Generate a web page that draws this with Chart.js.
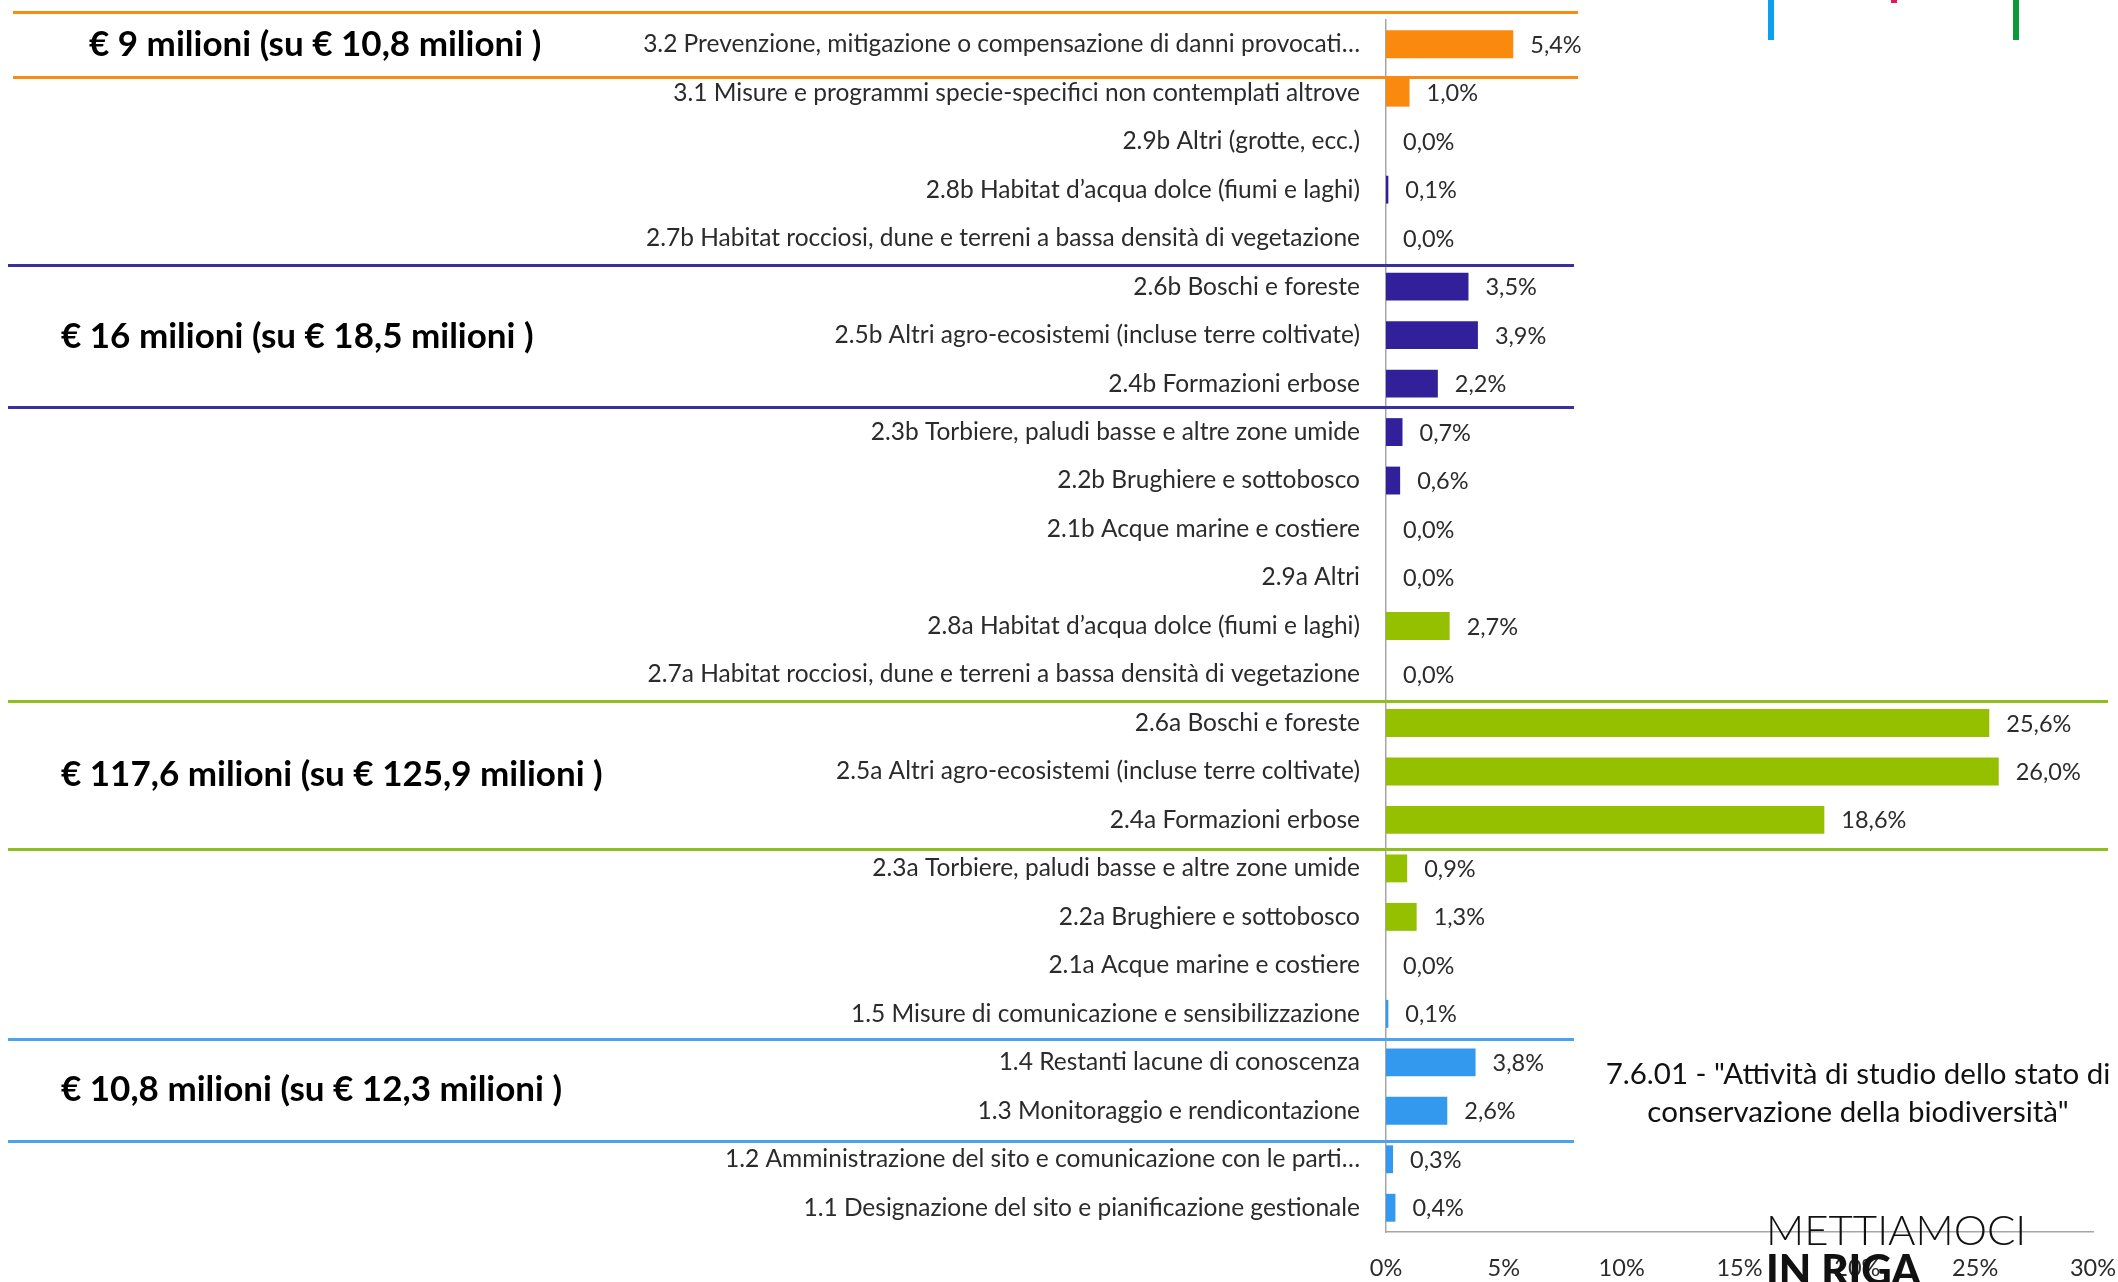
<!DOCTYPE html>
<html>
<head>
<meta charset="utf-8">
<script src="https://cdn.jsdelivr.net/npm/chart.js@4.4.1/dist/chart.umd.min.js"></script>
<style>
  html, body { margin: 0; padding: 0; background: #fff; }
  #wrap { position: relative; width: 2118px; height: 1282px; }
</style>
</head>
<body>
<div id="wrap"><canvas id="chart"></canvas></div>
<script>
// --- Data ---
const categories = [
    '3.2 Prevenzione, mitigazione o compensazione di danni provocati…',
    '3.1 Misure e programmi specie-specifici non contemplati altrove',
    '2.9b Altri (grotte, ecc.)',
    '2.8b Habitat d’acqua dolce (fiumi e laghi)',
    '2.7b Habitat rocciosi, dune e terreni a bassa densità di vegetazione',
    '2.6b Boschi e foreste',
    '2.5b Altri agro-ecosistemi (incluse terre coltivate)',
    '2.4b Formazioni erbose',
    '2.3b Torbiere, paludi basse e altre zone umide',
    '2.2b Brughiere e sottobosco',
    '2.1b Acque marine e costiere',
    '2.9a Altri',
    '2.8a Habitat d’acqua dolce (fiumi e laghi)',
    '2.7a Habitat rocciosi, dune e terreni a bassa densità di vegetazione',
    '2.6a Boschi e foreste',
    '2.5a Altri agro-ecosistemi (incluse terre coltivate)',
    '2.4a Formazioni erbose',
    '2.3a Torbiere, paludi basse e altre zone umide',
    '2.2a Brughiere e sottobosco',
    '2.1a Acque marine e costiere',
    '1.5 Misure di comunicazione e sensibilizzazione',
    '1.4 Restanti lacune di conoscenza',
    '1.3 Monitoraggio e rendicontazione',
    '1.2 Amministrazione del sito e comunicazione con le parti…',
    '1.1 Designazione del sito e pianificazione gestionale'
];
const shares = [5.4, 1.0, 0.0, 0.1, 0.0, 3.5, 3.9, 2.2, 0.7, 0.6, 0.0, 0.0, 2.7, 0.0,
                25.6, 26.0, 18.6, 0.9, 1.3, 0.0, 0.1, 3.8, 2.6, 0.3, 0.4];
const xTicks = [0, 5, 10, 15, 20, 25, 30];

// group boxes: label, first/last edge in category units
const groupLabels = [
    '€ 9 milioni (su € 10,8 milioni )',
    '€ 16 milioni (su € 18,5 milioni )',
    '€ 117,6 milioni (su € 125,9 milioni )',
    '€ 10,8 milioni (su € 12,3 milioni )'
];
const groupEdges = [[-0.67, 0.67], [4.56, 7.49], [13.55, 16.59], [20.52, 22.62]];

const subtitle = ['7.6.01 - "Attività di studio dello stato di', 'conservazione della biodiversità"'];

// --- Colours ---
const COLORS = { orange: '#F98A0E', indigo: '#31209A', green: '#94C000', blue: '#3399EE' };
const LINE_COLORS = ['#F98A12', '#3A2FA0', '#8EBF1A', '#4AA3EC'];
const groupStyle = [
    { x1: 13, x2: 1578, textX: 89 },
    { x1: 8, x2: 1574, textX: 61 },
    { x1: 8, x2: 2108, textX: 61 },
    { x1: 8, x2: 1574, textX: 61 }
];

function colorFor(label) {
    const code = label.split(' ')[0];
    if (code.startsWith('3')) return COLORS.orange;
    if (code.startsWith('1')) return COLORS.blue;
    return code.endsWith('b') ? COLORS.indigo : COLORS.green;
}

const TEXT = '#2b2b2b';
const FONT = 'Lato, "Open Sans", sans-serif';

// --- Plugins ---
const valueLabels = {
    id: 'valueLabels',
    afterDatasetsDraw(chart) {
        const ctx = chart.ctx;
        const meta = chart.getDatasetMeta(0);
        ctx.save();
        ctx.font = '23.5px ' + FONT;
        ctx.fillStyle = TEXT;
        ctx.textAlign = 'left';
        ctx.textBaseline = 'middle';
        meta.data.forEach((bar, i) => {
            const txt = shares[i].toFixed(1).replace('.', ',') + '%';
            ctx.fillText(txt, bar.x + 17, bar.y + 1);
        });
        ctx.restore();
    }
};

const groupBoxes = {
    id: 'groupBoxes',
    afterDraw(chart) {
        const ctx = chart.ctx;
        const y = chart.scales.y;
        const y0 = y.getPixelForValue(0);
        const step = y.getPixelForValue(1) - y0;
        ctx.save();
        groupEdges.forEach((edges, g) => {
            const st = groupStyle[g];
            ctx.strokeStyle = LINE_COLORS[g];
            ctx.lineWidth = 3;
            edges.forEach(e => {
                const py = Math.round(y0 + e * step) + 0.5;
                ctx.beginPath();
                ctx.moveTo(st.x1, py);
                ctx.lineTo(st.x2, py);
                ctx.stroke();
            });
            const mid = y0 + (edges[0] + edges[1]) / 2 * step;
            ctx.font = 'bold 35px ' + FONT;
            ctx.fillStyle = '#000';
            ctx.textAlign = 'left';
            ctx.textBaseline = 'middle';
            ctx.fillText(groupLabels[g], st.textX, mid);
        });

        // subtitle
        ctx.font = '29.5px ' + FONT;
        ctx.fillStyle = '#111';
        ctx.textAlign = 'center';
        ctx.fillText(subtitle[0], 1858, 1074);
        ctx.fillText(subtitle[1], 1858, 1112);

        // logo pieces
        ctx.fillStyle = '#0AA0F0';
        ctx.fillRect(1768, 0, 6, 40);
        ctx.fillStyle = '#E8175D';
        ctx.fillRect(1891, 0, 6, 3);
        ctx.fillStyle = '#0A9A3C';
        ctx.fillRect(2013, 0, 6, 40);

        ctx.textAlign = 'left';
        ctx.textBaseline = 'alphabetic';
        ctx.fillStyle = '#111';
        ctx.font = '300 42px ' + FONT;
        ctx.fillText('METTIAMOCI', 1766, 1245);
        ctx.font = '900 42px ' + FONT;
        ctx.fillText('IN RIGA', 1766, 1285);
        ctx.restore();
    }
};

// --- Chart ---
function draw() {
    const ctx = document.getElementById('chart').getContext('2d');
    new Chart(ctx, {
        type: 'bar',
        data: {
            labels: categories,
            datasets: [{
                data: shares,
                backgroundColor: categories.map(colorFor),
                barPercentage: 0.575,
                categoryPercentage: 1.0
            }]
        },
        options: {
            indexAxis: 'y',
            responsive: true,
            maintainAspectRatio: false,
            animation: false,
            layout: { padding: { left: 0, right: 25, top: 20, bottom: 0 } },
            plugins: { legend: { display: false }, tooltip: { enabled: false } },
            scales: {
                x: {
                    min: 0, max: 30,
                    afterBuildTicks: scale => { scale.ticks = xTicks.map(v => ({ value: v })); },
                    afterFit: scale => {
                        scale.height = 50;
                        scale.paddingLeft = 0;
                        scale.paddingRight = 0;
                    },
                    grid: { display: false, drawTicks: false },
                    border: { display: true, color: '#A6A6A6', width: 1.5 },
                    ticks: {
                        padding: 22,
                        color: TEXT,
                        font: { family: FONT, size: 23.5 },
                        callback: v => v + '%'
                    }
                },
                y: {
                    afterFit: scale => {
                        scale.width = 1386;
                        scale.paddingTop = 0;
                        scale.paddingBottom = 0;
                    },
                    grid: { display: false, drawTicks: false },
                    border: { display: true, color: '#A6A6A6', width: 1.5 },
                    ticks: {
                        padding: 26,
                        autoSkip: false,
                        color: TEXT,
                        font: { family: FONT, size: 24.5 }
                    }
                }
            }
        },
        plugins: [valueLabels, groupBoxes]
    });
}

Promise.all([
    document.fonts.load('24px Lato'),
    document.fonts.load('bold 35px Lato'),
    document.fonts.load('300 42px Lato'),
    document.fonts.load('900 42px Lato')
]).then(draw, draw);
</script>
</body>
</html>
